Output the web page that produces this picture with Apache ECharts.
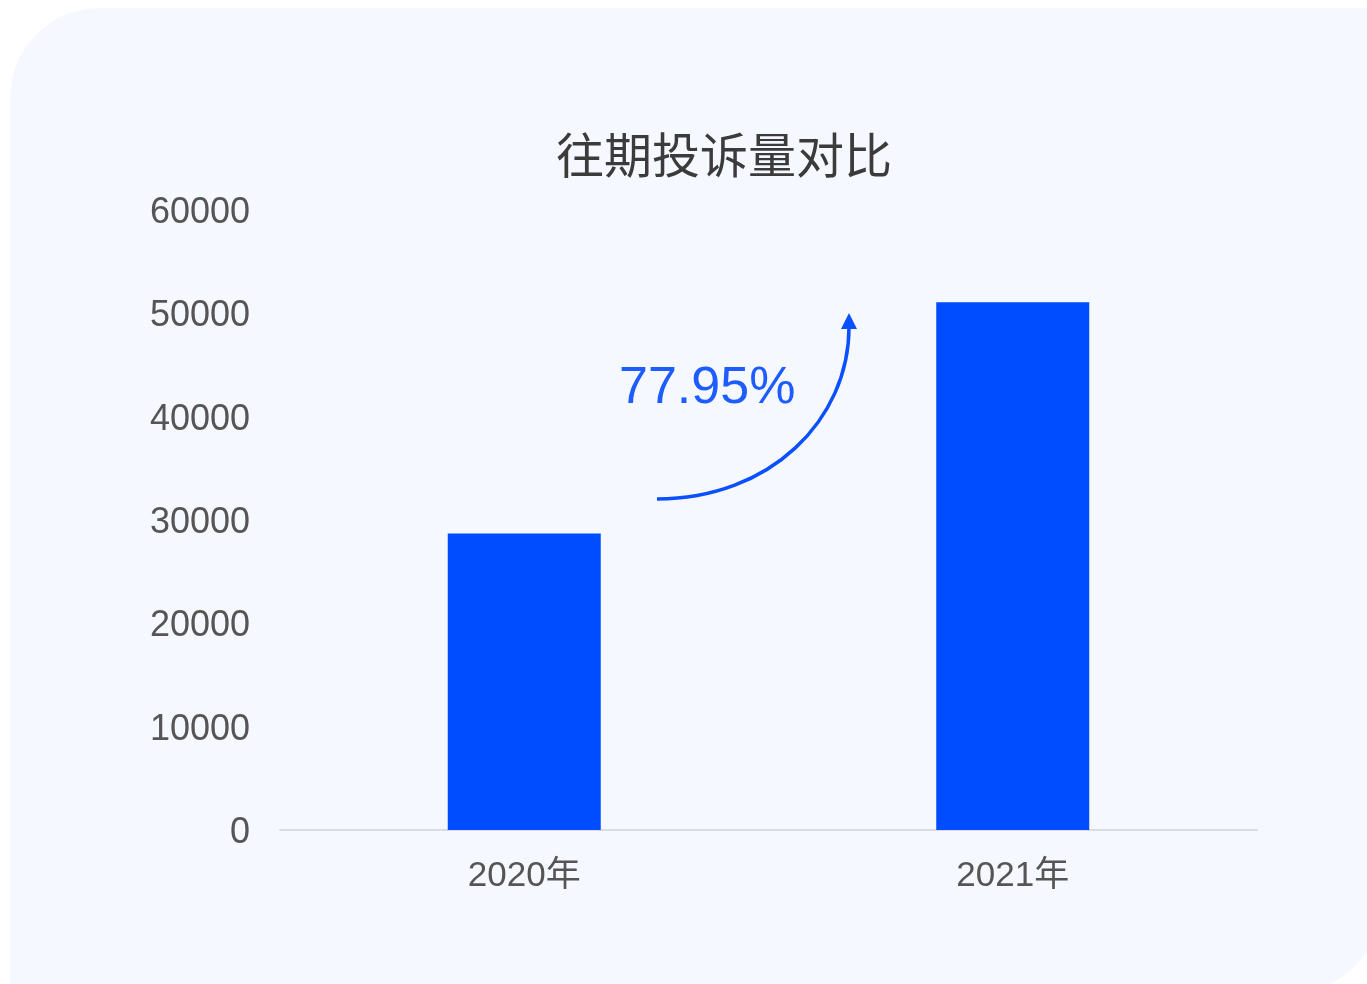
<!DOCTYPE html>
<html>
<head>
<meta charset="utf-8">
<style>
  html, body { margin: 0; padding: 0; background: #ffffff; }
  #chart { width: 1367px; height: 984px; }
</style>
<script src="https://cdn.jsdelivr.net/npm/echarts@6/dist/echarts.min.js"></script>
</head>
<body>
<div id="chart"></div>
<script>
// 数据
const years = ['2020年', '2021年'];
const complaints = [28700, 51070];
const growthLabel = '77.95%';
const yTicks = [0, 10000, 20000, 30000, 40000, 50000, 60000];

const blue = '#004cff';
const fontFamily = '"Liberation Sans", Arial, "Noto Sans CJK SC", sans-serif';

const chart = echarts.init(document.getElementById('chart'));

chart.setOption({
  backgroundColor: '#ffffff',
  animation: false,
  title: {
    text: '往期投诉量对比',
    left: 551,
    top: 126,
    textStyle: {
      fontSize: 48,
      fontWeight: 'normal',
      color: '#3b3b3b',
      fontFamily: '"Noto Sans CJK SC", sans-serif'
    }
  },
  grid: { left: 280, right: 110, top: 210, bottom: 154 },
  xAxis: {
    type: 'category',
    data: years,
    axisTick: { show: false },
    axisLine: { lineStyle: { color: '#d9dce3', width: 2 } },
    axisLabel: {
      margin: 29,
      fontSize: 35,
      color: '#555555',
      fontFamily: fontFamily
    }
  },
  yAxis: {
    type: 'value',
    min: yTicks[0],
    max: yTicks[yTicks.length - 1],
    interval: 10000,
    splitLine: { show: false },
    axisLine: { show: false },
    axisTick: { show: false },
    axisLabel: {
      margin: 30,
      fontSize: 36,
      lineHeight: 42,
      color: '#555555',
      fontFamily: fontFamily,
      formatter: v => '{v|' + v + '}',
      rich: {
        v: { fontSize: 36, color: '#555555', fontFamily: fontFamily, padding: [6, 0, 0, 0] }
      }
    }
  },
  series: [{
    type: 'bar',
    data: complaints,
    barWidth: 153,
    itemStyle: { color: blue }
  }],
  graphic: [
    {
      // 背景面板
      type: 'rect',
      z: -10,
      silent: true,
      shape: { x: 10, y: 8, width: 1372, height: 984, r: [90, 0, 90, 0] },
      style: { fill: '#f5f8fe' }
    },
    {
      // 增长箭头
      type: 'bezierCurve',
      z: 10,
      silent: true,
      shape: { x1: 657, y1: 499, cpx1: 770, cpy1: 499, cpx2: 849, cpy2: 420, x2: 849, y2: 327 },
      style: { stroke: '#0a50ff', lineWidth: 3.5, fill: null }
    },
    {
      type: 'polygon',
      z: 10,
      silent: true,
      shape: { points: [[849, 313], [857, 329], [841, 329]] },
      style: { fill: '#0a50ff' }
    },
    {
      type: 'text',
      z: 10,
      silent: true,
      left: 619,
      top: 363,
      style: {
        text: growthLabel,
        fontSize: 52,
        fill: '#1d5cff',
        fontFamily: fontFamily
      }
    }
  ]
});
</script>
</body>
</html>
